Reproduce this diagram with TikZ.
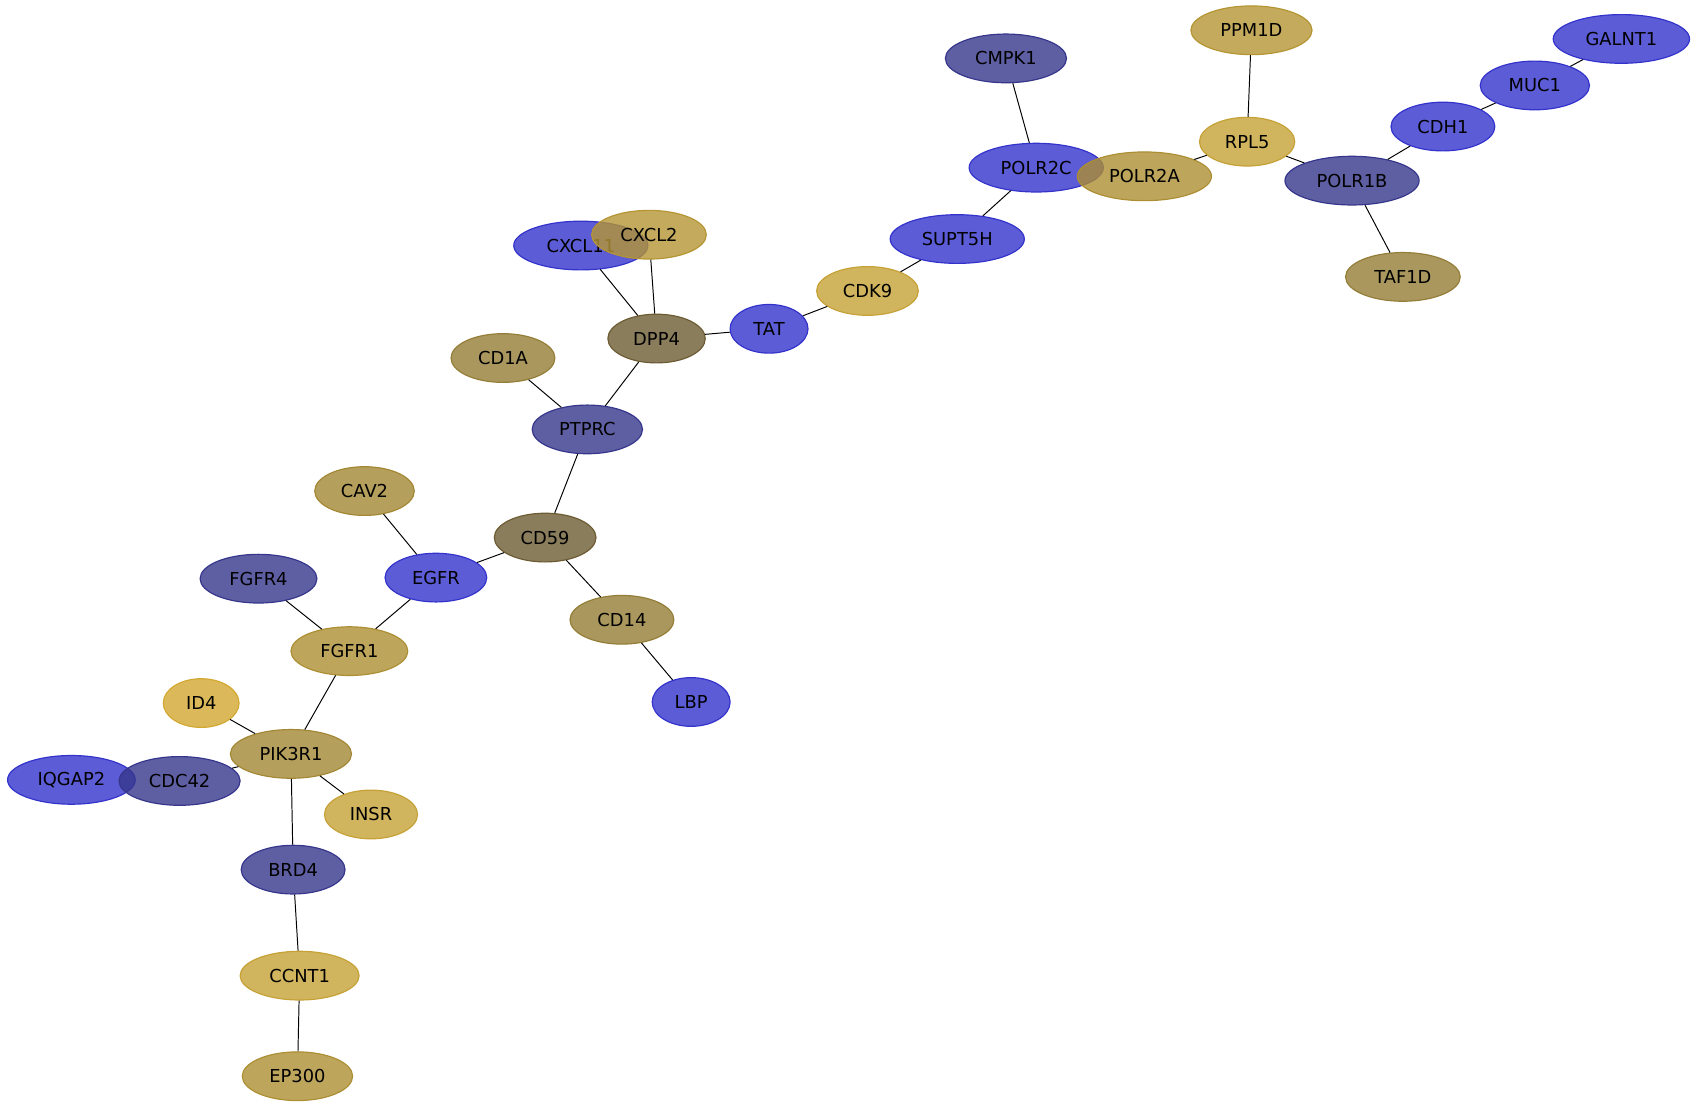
\documentclass[tikz,border=0pt]{standalone}
\usepackage{fontspec}
\setmainfont{DejaVu Sans}
\usetikzlibrary{shapes.geometric}

% node colours (drawn with some transparency)
\definecolor{gblue}{RGB}{51,51,204}
\definecolor{gslate}{RGB}{54,54,140}
\definecolor{golive}{RGB}{109,92,51}
\definecolor{gkhaki}{RGB}{148,125,54}
\definecolor{gsand}{RGB}{163,135,52}
\definecolor{gtan}{RGB}{172,142,51}
\definecolor{gochre}{RGB}{181,149,51}
\definecolor{ggold}{RGB}{197,161,54}
\definecolor{gyellow}{RGB}{210,168,49}

\tikzset{
  gene/.style={ellipse, draw=#1, fill=#1, fill opacity=0.8, draw opacity=1,
    text opacity=1, line width=1.1pt, inner sep=0pt, minimum height=45pt,
    font=\fontsize{16.5}{20}\selectfont},
  link/.style={draw=black, line width=0.9pt}
}

\begin{document}
\begin{tikzpicture}[x=1pt, y=-1pt]
    \useasboundingbox (0,0) rectangle (1568,1024);

    % upper right chain
    \node[gene=gblue,  minimum width=126pt] (galnt1) at (1499,36)  {GALNT1};
    \node[gene=gblue,  minimum width=101pt] (muc1)   at (1419,79)  {MUC1};
    \node[gene=gochre, minimum width=112pt] (ppm1d)  at (1157,28)  {PPM1D};
    \node[gene=gslate, minimum width=112pt] (cmpk1)  at (930,54)   {CMPK1};
    \node[gene=gblue,  minimum width=96pt]  (cdh1)   at (1334,117) {CDH1};
    \node[gene=ggold,  minimum width=88pt]  (rpl5)   at (1153,131) {RPL5};
    \node[gene=gblue,  minimum width=124pt] (polr2c) at (958,155)  {POLR2C};
    \node[gene=gtan,   minimum width=124pt] (polr2a) at (1058,163) {POLR2A};
    \node[gene=gslate, minimum width=124pt] (polr1b) at (1250,167) {POLR1B};
    \node[gene=gkhaki, minimum width=106pt] (taf1d)  at (1297,256) {TAF1D};
    \node[gene=gblue,  minimum width=124pt] (supt5h) at (885,221)  {SUPT5H};
    \node[gene=ggold,  minimum width=94pt]  (cdk9)   at (802,269)  {CDK9};
    \node[gene=gblue,  minimum width=72pt]  (tat)    at (711,304)  {TAT};

    % middle
    \node[gene=gblue,  minimum width=124pt] (cxcl11) at (537,227)  {CXCL11};
    \node[gene=gochre, minimum width=106pt] (cxcl2)  at (600,217)  {CXCL2};
    \node[gene=golive, minimum width=90pt]  (dpp4)   at (607,313)  {DPP4};
    \node[gene=gkhaki, minimum width=96pt]  (cd1a)   at (465,331)  {CD1A};
    \node[gene=gslate, minimum width=102pt] (ptprc)  at (543,397)  {PTPRC};
    \node[gene=gsand,  minimum width=92pt]  (cav2)   at (337,454)  {CAV2};
    \node[gene=golive, minimum width=94pt]  (cd59)   at (504,497)  {CD59};
    \node[gene=gblue,  minimum width=94pt]  (egfr)   at (403,534)  {EGFR};
    \node[gene=gslate, minimum width=108pt] (fgfr4)  at (239,535)  {FGFR4};
    \node[gene=gkhaki, minimum width=96pt]  (cd14)   at (575,573)  {CD14};
    \node[gene=gtan,   minimum width=108pt] (fgfr1)  at (323,602)  {FGFR1};
    \node[gene=gblue,  minimum width=72pt]  (lbp)    at (639,649)  {LBP};

    % lower left
    \node[gene=gyellow, minimum width=70pt] (id4)    at (186,650)  {ID4};
    \node[gene=gsand,  minimum width=112pt] (pik3r1) at (269,697)  {PIK3R1};
    \node[gene=gblue,  minimum width=118pt] (iqgap2) at (66,721)   {IQGAP2};
    \node[gene=gslate, minimum width=112pt] (cdc42)  at (166,722)  {CDC42};
    \node[gene=ggold,  minimum width=86pt]  (insr)   at (343,753)  {INSR};
    \node[gene=gslate, minimum width=96pt]  (brd4)   at (271,804)  {BRD4};
    \node[gene=ggold,  minimum width=110pt] (ccnt1)  at (277,902)  {CCNT1};
    \node[gene=gtan,   minimum width=102pt] (ep300)  at (275,995)  {EP300};

    % interactions
    \draw[link] (galnt1) -- (muc1);
    \draw[link] (muc1) -- (cdh1);
    \draw[link] (cdh1) -- (polr1b);
    \draw[link] (polr1b) -- (taf1d);
    \draw[link] (polr1b) -- (rpl5);
    \draw[link] (rpl5) -- (ppm1d);
    \draw[link] (rpl5) -- (polr2a);
    \draw[link] (polr2c) -- (cmpk1);
    \draw[link] (polr2c) -- (supt5h);
    \draw[link] (supt5h) -- (cdk9);
    \draw[link] (cdk9) -- (tat);
    \draw[link] (tat) -- (dpp4);
    \draw[link] (dpp4) -- (cxcl2);
    \draw[link] (dpp4) -- (cxcl11);
    \draw[link] (dpp4) -- (ptprc);
    \draw[link] (ptprc) -- (cd1a);
    \draw[link] (ptprc) -- (cd59);
    \draw[link] (cd59) -- (egfr);
    \draw[link] (cd59) -- (cd14);
    \draw[link] (cd14) -- (lbp);
    \draw[link] (egfr) -- (cav2);
    \draw[link] (egfr) -- (fgfr1);
    \draw[link] (fgfr1) -- (fgfr4);
    \draw[link] (fgfr1) -- (pik3r1);
    \draw[link] (pik3r1) -- (id4);
    \draw[link] (pik3r1) -- (cdc42);
    \draw[link] (pik3r1) -- (insr);
    \draw[link] (pik3r1) -- (brd4);
    \draw[link] (brd4) -- (ccnt1);
    \draw[link] (ccnt1) -- (ep300);
\end{tikzpicture}
\end{document}
